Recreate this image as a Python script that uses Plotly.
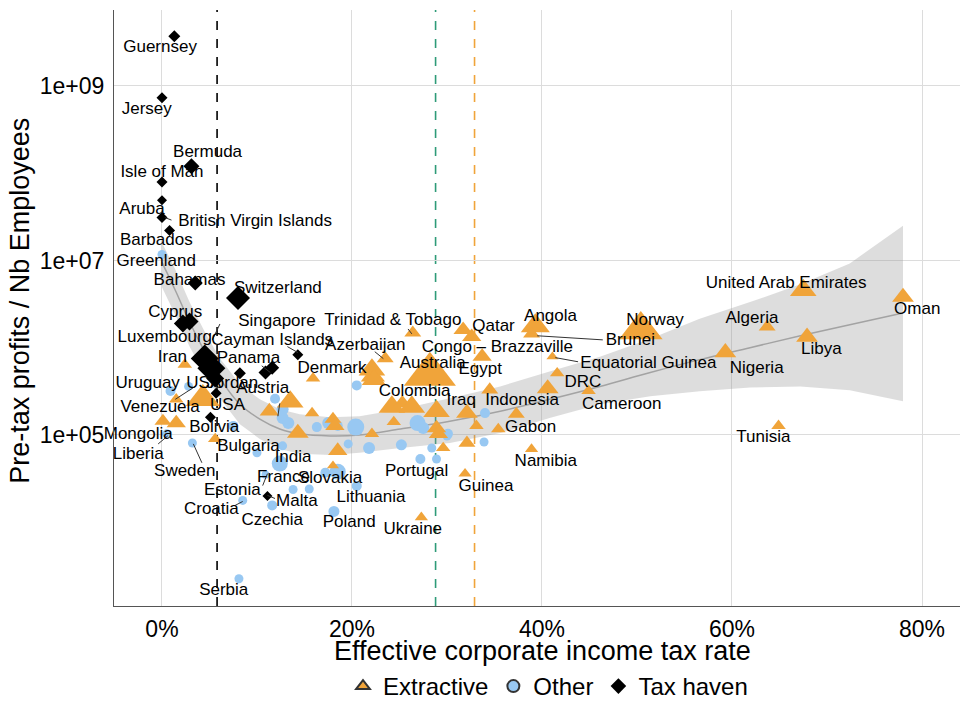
import plotly.graph_objects as go
import numpy as np

# ---------------- data ----------------
# Extractive countries: effective tax rate (%), pre-tax profit per employee
ext_rate = [2.4, 4.3, 1.5, 0.1, 1.5, 5.6, 13.5, 11.3, 15.9, 15.8, 14.3, 18.0, 18.2, 18.5, 18.0,
            22.1, 22.2, 26.4, 23.5, 22.1, 22.3, 28.2, 31.7, 32.6, 33.7, 39.3, 38.9, 34.5, 24.2,
            25.3, 26.3, 28.9, 24.4, 28.9, 29.1, 29.6, 32.1, 33.1, 32.1, 35.4, 37.3, 40.6, 41.6,
            41.1, 44.9, 38.9, 31.9, 27.3, 50.4, 67.5, 63.7, 67.9, 59.3, 78.0, 64.9]
ext_profit = [6.4e5, 2.6e5, 2.56e5, 1.44e5, 1.37e5, 9.0e4, 2.4e5, 1.87e5, 4.45e5, 1.78e5, 1.05e5,
              1.52e5, 1.27e5, 6.6e4, 4.45e4, 1.03e5, 4.7e5, 1.48e6, 7.5e5, 5.6e5, 4.3e5, 4.94e5,
              1.6e6, 1.33e6, 7.9e5, 1.78e6, 1.44e6, 3.3e5, 2.1e5, 2.3e5, 2.1e5, 1.87e5, 1.41e5,
              1.2e5, 1.03e5, 7.1e4, 8.1e4, 1.27e5, 1.78e5, 1.17e5, 1.73e5, 3.4e5, 5.1e5, 7.9e5,
              3.2e5, 6.9e4, 3.6e4, 1.14e4, 1.6e6, 4.56e6, 1.73e6, 1.33e6, 8.8e5, 3.8e6, 1.27e5]
# Other countries
oth_rate = [0.0, 0.9, 2.8, 0.5, 3.2, 7.5, 10.0, 12.7, 10.9, 12.4, 8.5, 11.6, 8.1, 18.1, 13.8,
            15.5, 18.5, 17.2, 20.5, 19.6, 21.8, 25.2, 27.2, 28.4, 28.9, 30.0, 20.5, 11.9, 12.7,
            13.3, 16.3, 17.5, 18.5, 20.4, 26.9, 27.5, 30.1, 34.0, 33.9, 12.7]
oth_profit = [1.17e7, 3.2e5, 3.6e5, 1.03e5, 8.1e4, 1.27e5, 6.25e4, 7.5e4, 3.5e4, 4.7e4, 1.78e4,
              1.56e4, 2.25e3, 1.33e4, 2.37e4, 2.4e4, 3.8e4, 3.7e4, 2.6e4, 7.9e4, 7.1e4, 7.7e4,
              5.3e4, 7.1e4, 5.3e4, 9.7e4, 3.7e5, 2.6e5, 1.56e5, 1.37e5, 1.23e5, 1.37e5, 1.27e5,
              1.23e5, 1.37e5, 1.2e5, 1.03e5, 1.78e5, 8.3e4, 1.97e5]
# Tax havens
th_rate = [1.3, 0.0, 3.1, 0.0, 0.0, 0.0, 0.8, 3.5, 8.0, 2.2, 2.9, 4.5, 5.2, 5.6, 14.3, 8.2,
           10.9, 11.6, 5.7, 5.1, 11.1]
th_profit = [3.7e9, 7.3e8, 1.2e8, 7.9e7, 4.9e7, 3.1e7, 2.2e7, 5.5e6, 3.7e6, 1.9e6, 2.0e6, 7.5e5,
             5.8e5, 4.45e5, 8.3e5, 5.1e5, 5.2e5, 5.9e5, 3.0e5, 1.6e5, 2.0e4]

# marker sizes (px)
ext_size = [12, 28, 12, 14, 16, 12, 22, 16, 12, 12, 18, 14, 16, 16, 10, 12, 20, 14, 14, 22, 20, 43,
            16, 16, 16, 24, 14, 14, 22, 16, 22, 22, 12, 16, 16, 12, 14, 12, 18, 12, 14, 18, 12,
            10, 12, 11, 11, 11, 36, 22, 14, 18, 18, 18, 12]
oth_size = [9, 10, 9, 9, 9, 10, 9, 9, 8, 16, 9, 10, 9, 11, 9, 9, 16, 10, 10, 9, 12, 11, 10, 9, 9,
            9, 10, 10, 12, 12, 10, 12, 10, 17, 16, 12, 10, 10, 9, 12]
th_size = [12, 11, 16, 11, 10, 11, 11, 15, 24, 18, 18, 28, 28, 18, 11, 12, 14, 14, 11, 11, 10]

# loess fit and confidence band
fit_rate = [0, 1.4, 2.9, 4.5, 6.1, 8.2, 10.3, 12.4, 14.5, 17.7, 20.8, 25.1, 30.3, 35.6, 40.8,
            46.1, 51.4, 56.6, 61.9, 67.2, 72.4, 78.0]
fit_mid = [9.5e6, 4.56e6, 1.97e6, 9.0e5, 4.45e5, 2.25e5, 1.52e5, 1.17e5, 1.03e5, 9.75e4, 1.0e5,
           1.17e5, 1.44e5, 1.87e5, 2.56e5, 3.6e5, 5.2e5, 7.3e5, 1.0e6, 1.37e6, 1.83e6, 2.5e6]
fit_upper = [1.6e7, 7.9e6, 3.33e6, 1.52e6, 7.5e5, 3.8e5, 2.56e5, 1.97e5, 1.73e5, 1.6e5, 1.64e5,
             1.97e5, 2.63e5, 3.6e5, 5.33e5, 7.9e5, 1.27e6, 2.14e6, 3.33e6, 5.33e6, 9.25e6, 2.5e7]
fit_lower = [4.94e6, 2.37e6, 1.03e6, 4.94e5, 2.63e5, 1.33e5, 9.0e4, 6.9e4, 6.1e4, 5.9e4, 6.25e4,
             7.1e4, 8.1e4, 1.05e5, 1.56e5, 2.25e5, 2.77e5, 3.16e5, 3.5e5, 3.6e5, 3.25e5, 2.43e5]

# reference rates (dashed vertical lines)
ref_haven, ref_other, ref_extractive = 5.8, 28.8, 32.9

x_ticks = [0, 20, 40, 60, 80]
x_ticktext = ["0%", "20%", "40%", "60%", "80%"]
y_ticks = [1e5, 1e7, 1e9]
y_ticktext = ["1e+05", "1e+07", "1e+09"]

# country labels: text, rate, log10 position
labels = [
    ("Guernsey", -0.2, 9.44), ("Jersey", -1.6, 8.73), ("Bermuda", 4.8, 8.23),
    ("Isle of Man", 0.0, 8.01), ("Aruba", -2.1, 7.58), ("British Virgin Islands", 9.8, 7.44),
    ("Barbados", -0.6, 7.23), ("Greenland", -0.6, 6.99), ("Bahamas", 2.9, 6.77),
    ("Switzerland", 12.2, 6.67), ("Cyprus", 1.4, 6.40), ("Singapore", 12.1, 6.30),
    ("Luxembourg", 0.3, 6.11), ("Cayman Islands", 11.6, 6.08), ("Iran", 1.1, 5.89),
    ("Panama", 9.1, 5.875), ("Trinidad & Tobago", 24.3, 6.31), ("Azerbaijan", 21.4, 6.02),
    ("Denmark", 17.9, 5.76), ("Qatar", 34.9, 6.24), ("Angola", 40.9, 6.35),
    ("Congo – Brazzaville", 35.3, 6.0), ("Brunei", 49.3, 6.08), ("Norway", 51.9, 6.31),
    ("Equatorial Guinea", 51.2, 5.82), ("United Arab Emirates", 65.7, 6.73),
    ("Algeria", 62.1, 6.33), ("Oman", 79.5, 6.43), ("Libya", 69.4, 5.98),
    ("Nigeria", 62.6, 5.76), ("Australia", 28.5, 5.82), ("Egypt", 33.5, 5.75),
    ("DRC", 44.3, 5.60), ("Colombia", 26.6, 5.49), ("Iraq", 31.5, 5.39),
    ("Indonesia", 37.9, 5.39), ("Cameroon", 48.4, 5.35), ("Gabon", 38.8, 5.08),
    ("Tunisia", 63.3, 4.97), ("Namibia", 40.4, 4.69), ("Guinea", 34.1, 4.41),
    ("Portugal", 26.8, 4.58), ("Ukraine", 26.4, 3.91), ("Poland", 19.7, 3.99),
    ("Lithuania", 22.0, 4.28), ("Slovakia", 17.7, 4.50), ("India", 13.8, 4.74),
    ("France", 12.8, 4.51), ("Malta", 14.2, 4.24), ("Czechia", 11.6, 4.02),
    ("Estonia", 7.4, 4.36), ("Croatia", 5.2, 4.14), ("Serbia", 6.5, 3.22),
    ("Sweden", 2.4, 4.58), ("Bulgaria", 9.1, 4.86), ("Liberia", -2.5, 4.77),
    ("Mongolia", -2.5, 5.0), ("Bolivia", 5.5, 5.08), ("Venezuela", -0.2, 5.31),
    ("USA", 6.9, 5.33), ("Jordan", 7.4, 5.59), ("Uruguay", -1.5, 5.59), ("USA", 4.4, 5.59),
    ("Austria", 10.6, 5.53),
]

# label leader segments: (rate0, value0, rate1, value1)
leaders = [
    (0.3, 3.1e7, 1.0, 2.9e7), (6.1, 1.87e6, 5.3, 1.23e6), (13.2, 1.03e6, 14.3, 8.8e5),
    (10.5, 6.2e5, 11.4, 5.2e5), (25.9, 1.64e6, 26.3, 1.44e6), (22.4, 9.0e5, 23.3, 7.5e5),
    (39.5, 1.37e6, 46.4, 1.23e6), (41.4, 7.7e5, 43.8, 6.9e5), (-0.4, 7.9e4, 0.6, 9.75e4),
    (3.3, 7.9e4, 4.2, 4.8e4), (10.6, 2.63e4, 11.1, 3.6e4), (7.7, 1.56e4, 8.5, 1.73e4),
    (11.1, 2.03e4, 11.9, 1.87e4), (3.5, 3.6e5, 1.4, 2.56e5), (12.4, 2.3e5, 12.2, 1.64e5),
]

ORANGE = "#F0A43A"
BLUE = "#98C8F2"
FONT = "Liberation Sans, Arial, Helvetica, sans-serif"

fig = go.Figure()

# confidence band + fit line
fig.add_trace(go.Scatter(
    x=fit_rate + fit_rate[::-1], y=fit_upper + fit_lower[::-1],
    fill="toself", fillcolor="rgba(150,150,150,0.32)", mode="lines",
    line=dict(width=0), hoverinfo="skip", showlegend=False))
fig.add_trace(go.Scatter(
    x=fit_rate, y=fit_mid, mode="lines",
    line=dict(color="#A3A3A3", width=1.5, shape="spline"), hoverinfo="skip", showlegend=False))

# points
fig.add_trace(go.Scatter(
    x=oth_rate, y=oth_profit, mode="markers", showlegend=False,
    marker=dict(symbol="circle", color=BLUE, size=oth_size, opacity=1, line=dict(width=0))))
fig.add_trace(go.Scatter(
    x=ext_rate, y=ext_profit, mode="markers", showlegend=False,
    marker=dict(symbol="triangle-up", color=ORANGE, size=[s * 1.05 for s in ext_size],
                opacity=1, line=dict(width=0))))
fig.add_trace(go.Scatter(
    x=th_rate, y=th_profit, mode="markers", showlegend=False,
    marker=dict(symbol="diamond", color="black", size=[s / 1.3 for s in th_size],
                opacity=1, line=dict(width=0))))

# leader lines
lx, ly = [], []
for r0, v0, r1, v1 in leaders:
    lx += [r0, r1, None]
    ly += [v0, v1, None]
fig.add_trace(go.Scatter(x=lx, y=ly, mode="lines", line=dict(color="#333333", width=1),
                         hoverinfo="skip", showlegend=False))

# labels
fig.add_trace(go.Scatter(
    x=[l[1] for l in labels], y=[10 ** l[2] for l in labels], text=[l[0] for l in labels],
    mode="text", textposition="middle center", cliponaxis=False,
    textfont=dict(family=FONT, size=17, color="black"), hoverinfo="skip", showlegend=False))

# legend keys
fig.add_trace(go.Scatter(x=[None], y=[None], mode="markers", name="Extractive",
                         marker=dict(symbol="triangle-up", color=ORANGE, size=16,
                                     line=dict(color="#333333", width=1))))
fig.add_trace(go.Scatter(x=[None], y=[None], mode="markers", name="Other",
                         marker=dict(symbol="circle", color=BLUE, size=12,
                                     line=dict(color="#333333", width=1))))
fig.add_trace(go.Scatter(x=[None], y=[None], mode="markers", name="Tax haven",
                         marker=dict(symbol="diamond", color="black", size=12)))

# dashed reference lines
for xv, col in [(ref_haven, "black"), (ref_other, "#2E9B78"), (ref_extractive, ORANGE)]:
    fig.add_shape(type="line", x0=xv, x1=xv, y0=0, y1=1, xref="x", yref="paper",
                  line=dict(color=col, width=1.6, dash="dash"), layer="below")

fig.update_layout(
    width=960, height=709,
    margin=dict(l=114, r=0, t=10, b=98),
    plot_bgcolor="white", paper_bgcolor="white",
    font=dict(family=FONT, color="black"),
    xaxis=dict(range=[-5.05, 84.0], tickvals=x_ticks, ticktext=x_ticktext,
               showgrid=True, gridcolor="#DCDCDC", gridwidth=1, zeroline=False,
               showline=True, linecolor="#555555", linewidth=1, ticks="",
               tickfont=dict(size=23, color="black"), ticklabelstandoff=2),
    yaxis=dict(type="log", range=[3.04, 9.87], tickvals=y_ticks, ticktext=y_ticktext,
               showgrid=True, gridcolor="#DCDCDC", gridwidth=1, zeroline=False,
               showline=True, linecolor="#555555", linewidth=1, ticks="",
               tickfont=dict(size=23, color="black"), ticklabelstandoff=4),
    legend=dict(orientation="h", x=0.513, xanchor="center", y=-0.136, yanchor="middle",
                font=dict(size=24, color="black"), bgcolor="rgba(0,0,0,0)",
                itemsizing="constant"),
    annotations=[
        dict(text="Effective corporate income tax rate", x=0.506, y=-0.075,
             xref="paper", yref="paper", showarrow=False, xanchor="center", yanchor="middle",
             font=dict(size=27, color="black")),
        dict(text="Pre-tax profits / Nb Employees", x=-0.112, y=0.5125,
             xref="paper", yref="paper", showarrow=False, xanchor="center", yanchor="middle",
             textangle=-90, font=dict(size=27, color="black")),
    ],
)

fig.write_html("out.html")
